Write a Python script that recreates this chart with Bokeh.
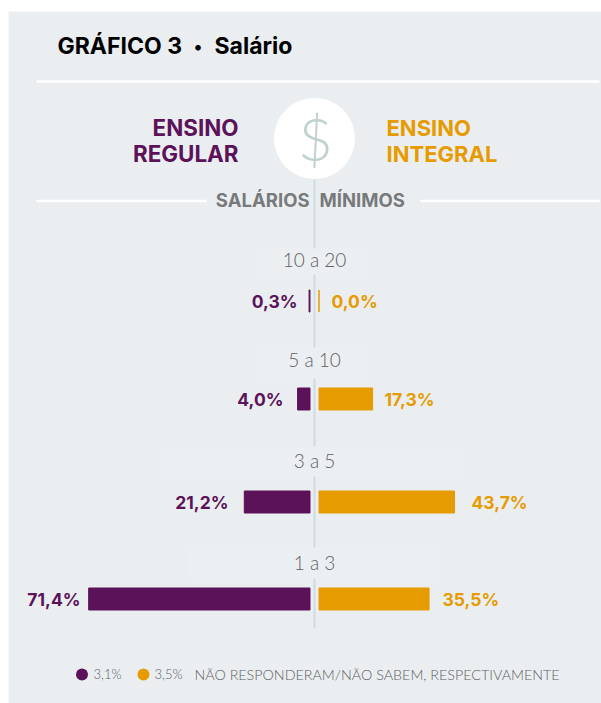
from bokeh.plotting import figure
from bokeh.models import Range1d, ColumnDataSource
from bokeh.core.properties import value
from bokeh.embed import file_html
from bokeh.resources import INLINE

# ---- data ----
categories = ["10 a 20", "5 a 10", "3 a 5", "1 a 3"]
regular = [0.3, 4.0, 21.2, 71.4]
integral = [0.0, 17.3, 43.7, 35.5]
regular_labels = ["0,3%", "4,0%", "21,2%", "71,4%"]
integral_labels = ["0,0%", "17,3%", "43,7%", "35,5%"]
note_regular = "3,1%"
note_integral = "3,5%"
note_text = "NÃO RESPONDERAM/NÃO SABEM, RESPECTIVAMENTE"

# ---- layout (page pixels) ----
W, H = 601, 703
S = 3.1
CX = 314
PURPLE, ORANGE = "#5c1259", "#e69b00"
PANEL = "#eaeef1"
BOX = "#ebeff2"
LINE = "#cddcdd"
GREY = "#77797b"
THIN_GREY = "#5f6163"
BOLD = value("Inter")
THIN = value("Lato Light")

def X(px):
    return (px - CX) / S

row_y = [300.5, 398.5, 501.5, 598.5]
cat_y = [258.5, 358.5, 459.5, 561.5]
box_x0 = [255, 255, 163, 188]
box_x1 = [368, 368, 463, 438]
box_y0 = [248, 347, 446, 547]
box_y1 = [274, 378, 476, 578]
reg_lab_x = [297, 283, 228, 80]
int_lab_x = [331, 384, 471, 442]
L_BASE = X(309.5)
R_BASE = X(318.5)

p = figure(width=W, height=H, output_backend="svg", toolbar_location=None,
           x_range=Range1d(X(0), X(601)), y_range=Range1d(703, 0),
           x_axis_location=None, y_axis_location=None, min_border=0,
           background_fill_color="white", border_fill_color="white",
           outline_line_color=None)
p.grid.visible = False

p.quad(left=[X(8)], right=[X(601)], top=[11], bottom=[703], fill_color=PANEL, line_color=None)

# rules
p.segment(x0=[X(36), X(36), X(420)], x1=[X(599), X(206), X(599)], y0=[81, 200.5, 200.5], y1=[81, 200.5, 200.5],
          line_color="white", line_width=2.5)

# central axis line
p.segment(x0=[0], x1=[0], y0=[170], y1=[628], line_color=LINE, line_width=2)

# category backgrounds
p.quad(left=[X(v) for v in box_x0], right=[X(v) for v in box_x1], top=box_y0, bottom=box_y1,
       fill_color=BOX, line_color=None)

# icon circle
p.scatter(x=[0], y=[138], size=81, marker="circle", fill_color="white", line_color=None)
p.text(x=[X(315)], y=[137.5], text=["$"], text_font=THIN, text_font_size="60px", text_color="#bfd2cf",
       text_align="center", text_baseline="middle")

# salary heading
p.text(x=[X(309)], y=[199], text=["SALÁRIOS"], text_font=BOLD, text_font_style="bold",
       text_font_size="18.5px", text_color=GREY, text_align="right", text_baseline="middle")
p.text(x=[X(319)], y=[199], text=["MÍNIMOS"], text_font=BOLD, text_font_style="bold",
       text_font_size="18.5px", text_color=GREY, text_align="left", text_baseline="middle")

# title
p.text(x=[X(57), X(214)], y=[45] * 2, text=["GRÁFICO 3", "Salário"], text_font=BOLD,
       text_font_style="bold", text_font_size="23px",
       text_color="black", text_align="left", text_baseline="middle")
p.text(x=[X(197.5)], y=[46], text=["•"], text_font=BOLD, text_font_style="bold", text_font_size="18px",
       text_color="black", text_align="center", text_baseline="middle")

# column headers
p.text(x=[X(238)] * 2, y=[127, 153], text=["ENSINO", "REGULAR"], text_font=BOLD, text_font_style="bold",
       text_font_size="22.4px", text_color=PURPLE, text_align="right", text_baseline="middle")
p.text(x=[X(386)] * 2, y=[127, 153], text=["ENSINO", "INTEGRAL"], text_font=BOLD, text_font_style="bold",
       text_font_size="22px", text_color=ORANGE, text_align="left", text_baseline="middle")

# bars
src = ColumnDataSource(dict(
    y=row_y,
    rl=[L_BASE - v for v in regular],
    rr=[L_BASE] * 4,
    il=[R_BASE] * 4,
    ir=[R_BASE + v for v in integral],
))
p.hbar(y="y", left="rl", right="rr", height=22, source=src, fill_color=PURPLE, line_color=PURPLE,
       line_width=1, line_join="miter")
p.hbar(y="y", left="il", right="ir", height=22, source=src, fill_color=ORANGE, line_color=ORANGE,
       line_width=1, line_join="miter")

# category labels
p.text(x=[0] * 4, y=cat_y, text=categories, text_font=THIN, text_font_size="19px", text_color=THIN_GREY,
       text_align="center", text_baseline="middle")

# value labels
p.text(x=[X(v) for v in reg_lab_x], y=row_y, text=regular_labels, text_font=BOLD,
       text_font_style="bold", text_font_size="17.5px", text_color=PURPLE, text_align="right", text_baseline="middle")
p.text(x=[X(v) for v in int_lab_x], y=row_y, text=integral_labels, text_font=BOLD,
       text_font_style="bold", text_font_size="17.5px", text_color=ORANGE, text_align="left", text_baseline="middle")

# footnote
p.scatter(x=[X(81.5), X(143)], y=[674, 674], size=12, marker="circle", fill_color=[PURPLE, ORANGE], line_color=None)
p.text(x=[X(93), X(154)], y=[673.5] * 2, text=[note_regular, note_integral], text_font=THIN,
       text_font_size="13px", text_color=THIN_GREY, text_align="left", text_baseline="middle")
p.text(x=[X(194)], y=[673.5], text=[note_text], text_font=THIN,
       text_font_size="14.3px", text_color=THIN_GREY, text_align="left", text_baseline="middle")

open("out.html", "w").write(file_html(p, INLINE))
